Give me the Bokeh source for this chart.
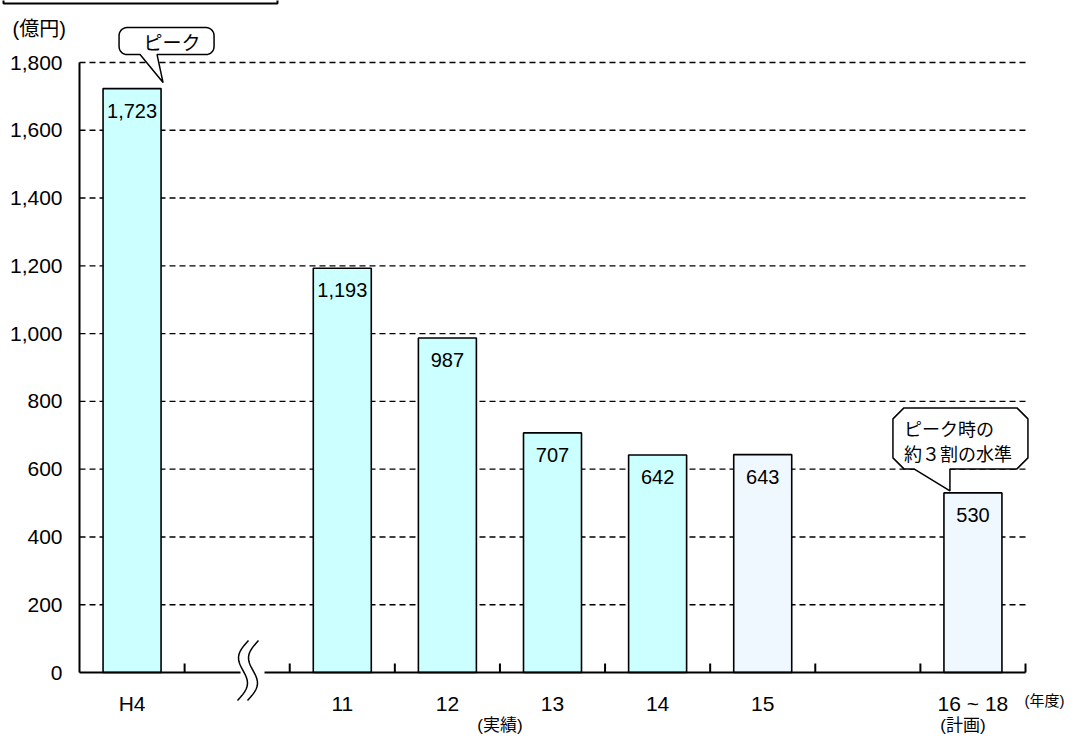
import numpy as np
from bokeh.plotting import figure
from bokeh.models import Range1d, ColumnDataSource
from bokeh.core.properties import value
from bokeh.embed import file_html
from bokeh.resources import INLINE

# ---------------- data ----------------
slot_labels = ["H4", "", "11", "12", "13", "14", "15", "", "16 ~ 18"]
categories = ["H4", "11", "12", "13", "14", "15", "16 ~ 18"]
amounts = [1723, 1193, 987, 707, 642, 643, 530]
amount_labels = ["1,723", "1,193", "987", "707", "642", "643", "530"]
kinds = ["actual", "actual", "actual", "actual", "actual", "plan", "plan"]
y_ticks = [0, 200, 400, 600, 800, 1000, 1200, 1400, 1600, 1800]
y_tick_labels = ["0", "200", "400", "600", "800", "1,000", "1,200", "1,400", "1,600", "1,800"]
group_labels = ["(実績)", "(計画)"]
group_spans = [("11", "14"), ("16 ~ 18", "16 ~ 18")]
unit_y = "(億円)"
unit_x = "(年度)"
note_peak = "ピーク"
note_plan = ["ピーク時の", "約３割の水準"]

# ---------------- layout ----------------
W, H = 1074, 738
PX_X0, PX_X1 = 79, 1025
PX_Y0, PX_YT = 672, 62
n = len(slot_labels)
ymax = y_ticks[-1]
kx = (PX_X1 - PX_X0) / n
ky = (PX_Y0 - PX_YT) / ymax


def dx(px):
    return (np.asarray(px, dtype=float) - PX_X0) / kx


def dy(py):
    return (PX_Y0 - np.asarray(py, dtype=float)) / ky


def sx(x):
    return PX_X0 + x * kx


def sy(y):
    return PX_Y0 - y * ky


FONT = value("Liberation Sans, Noto Sans CJK JP")
JFONT = value("Noto Sans CJK JP")

xc = [slot_labels.index(c) + 0.5 for c in categories]
colors = ["#CCFFFF" if k == "actual" else "#F0F8FF" for k in kinds]

p = figure(width=W, height=H,
           x_range=Range1d(float(dx(0)), float(dx(W))),
           y_range=Range1d(float(dy(H)), float(dy(0))),
           output_backend="svg", toolbar_location=None,
           x_axis_location=None, y_axis_location=None,
           min_border=0, outline_line_color=None)
p.title.visible = False
p.grid.grid_line_color = None
p.background_fill_color = "white"
p.border_fill_color = "white"

# grid lines
p.segment(x0=0, y0=y_ticks[1:], x1=n, y1=y_ticks[1:],
          line_color="black", line_width=1.4, line_dash="6 4")

# bars
src = ColumnDataSource(dict(x=xc, top=amounts, fill=colors, label=amount_labels,
                            ly=[a - 22 / ky for a in amounts]))
p.vbar(x="x", top="top", bottom=0, width=58 / kx, fill_color="fill",
       line_color="black", line_width=1.6, source=src)
p.text(x="x", y="ly", text="label", text_align="center", text_baseline="middle",
       text_font=FONT, text_font_size="20px", text_color="black", source=src)

# axes lines
p.segment(x0=0, y0=0, x1=0, y1=ymax, line_color="black", line_width=2)
p.segment(x0=[0, float(dx(264))], y0=[0, 0], x1=[float(dx(240)), n], y1=[0, 0],
          line_color="black", line_width=2)
bounds = list(range(1, n + 1))
p.segment(x0=bounds, y0=0, x1=bounds, y1=9 / ky, line_color="black", line_width=2)

# axis break mark
t = np.linspace(0, 1, 50)
bx, by = [], []
for shift in (0, 10):
    bx.append(dx(248 + shift - 11 * t - 7 * np.sin(2 * np.pi * t)))
    by.append(dy(640 + 60 * t))
p.multi_line(xs=bx, ys=by, line_color="black", line_width=1.5)

# y tick labels
p.text(x=float(dx(62)), y=y_ticks, text=y_tick_labels, text_align="right",
       text_baseline="middle", text_font=FONT, text_font_size="21px", text_color="black")

# x labels
p.text(x=xc, y=float(dy(703)), text=categories, text_align="center",
       text_baseline="middle", text_font=FONT, text_font_size="21px", text_color="black")
gx = [(slot_labels.index(a) + slot_labels.index(b) + 1) / 2 for a, b in group_spans]
p.text(x=gx, y=float(dy(725)), text=group_labels, text_align="center",
       text_baseline="middle", text_font=FONT, text_font_size="17px", text_color="black",
       x_offset=[0, -10])
p.text(x=[float(dx(1044))], y=[float(dy(700))], text=[unit_x], text_align="center",
       text_baseline="middle", text_font=FONT, text_font_size="15px", text_color="black")
p.text(x=[float(dx(12))], y=[float(dy(28))], text=[unit_y], text_align="left",
       text_baseline="middle", text_font=FONT, text_font_size="20px", text_color="black")

# title box (cut at top)
p.quad(left=float(dx(3)), right=float(dx(277)), top=float(dy(-10)), bottom=float(dy(3)),
       fill_color=None, line_color="black", line_width=2)


# speech bubbles
def arc(cx, cy, r, a0, a1):
    a = np.linspace(a0, a1, 8)
    return list(cx + r * np.cos(a)), list(cy + r * np.sin(a))


def bubble(L, R, T, B, r, tx1, tx2, tip, chamfer=False):
    # screen coords, y downward
    px, py = [tx2], [B]
    corners = [(R - r, B - r, np.pi / 2, 0), (R - r, T + r, 0, -np.pi / 2),
               (L + r, T + r, -np.pi / 2, -np.pi), (L + r, B - r, np.pi, np.pi / 2)]
    for cx, cy, a0, a1 in corners:
        if chamfer:
            px += [cx + r * np.cos(a0), cx + r * np.cos(a1)]
            py += [cy + r * np.sin(a0), cy + r * np.sin(a1)]
        else:
            ax, ay = arc(cx, cy, r, a0, a1)
            px += ax
            py += ay
    px += [tx1, tip[0], tx2]
    py += [B, tip[1], B]
    return list(dx(px)), list(dy(py))


tip1 = (sx(xc[0]) + 31, sy(amounts[0]) - 6)
b1x, b1y = bubble(tip1[0] - 44, tip1[0] + 51, tip1[1] - 55, tip1[1] - 28, 8,
                  tip1[0] - 23, tip1[0] - 6, tip1)
tip2 = (sx(xc[-1]) - 23, sy(amounts[-1]) - 2)
b2x, b2y = bubble(tip2[0] - 57, tip2[0] + 78, tip2[1] - 83, tip2[1] - 22, 11,
                  tip2[0] - 36, tip2[0], tip2, chamfer=True)
p.patches(xs=[b1x, b2x], ys=[b1y, b2y], fill_color="white", line_color="black",
          line_width=1.5)

p.text(x=[float(dx(tip1[0] + 9))], y=[float(dy(tip1[1] - 41))], text=[note_peak],
       text_align="center", text_baseline="middle", text_font=JFONT,
       text_font_size="19px", text_color="black")
p.text(x=[float(dx(tip2[0] - 46))] * 2,
       y=[float(dy(tip2[1] - 63)), float(dy(tip2[1] - 38))], text=note_plan,
       text_align="left", text_baseline="middle", text_font=JFONT,
       text_font_size="18px", text_color="black")

open("out.html", "w").write(file_html(p, INLINE))
